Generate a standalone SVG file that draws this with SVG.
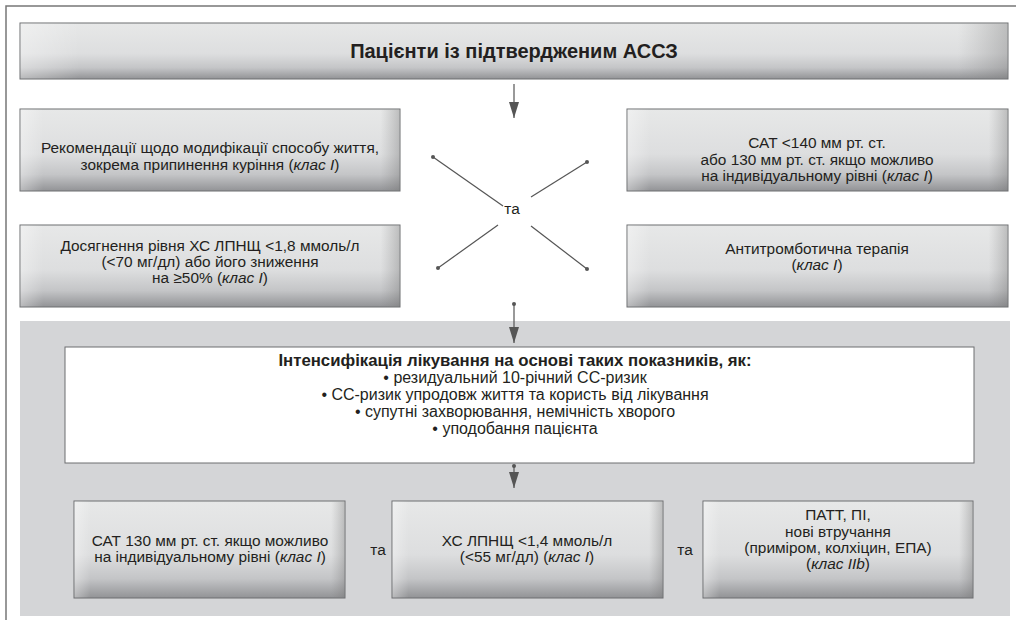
<svg xmlns="http://www.w3.org/2000/svg" width="1016" height="620" viewBox="0 0 1016 620">
<defs>
<linearGradient id="gv" x1="0" y1="0" x2="0" y2="1">
<stop offset="0" stop-color="#e7e8e8"/>
<stop offset="0.55" stop-color="#dddedf"/>
<stop offset="0.8" stop-color="#c4c5c7"/>
<stop offset="1" stop-color="#929396"/>
</linearGradient>
<linearGradient id="gh" x1="0" y1="0" x2="1" y2="0">
<stop offset="0" stop-color="#ffffff" stop-opacity="0.35"/>
<stop offset="0.06" stop-color="#ffffff" stop-opacity="0"/>
<stop offset="0.95" stop-color="#808080" stop-opacity="0"/>
<stop offset="1" stop-color="#707070" stop-opacity="0.35"/>
</linearGradient>
<marker id="ah" viewBox="0 0 16 10" refX="16" refY="5" markerWidth="16" markerHeight="10" markerUnits="userSpaceOnUse" orient="auto">
<path d="M0,0 L16,5 L0,10 Z" fill="#555"/>
</marker>
</defs>
<style>
.box{stroke:#6d6e70;stroke-width:1}
.t{font-family:"Liberation Sans",Arial,sans-serif;font-size:15.4px;fill:#231f20;text-anchor:middle}
.w{font-size:16px}
.b{font-weight:bold}
.i{font-style:italic}
.ln{stroke:#555;stroke-width:1.2;fill:none}
.dot{fill:#555}
</style>
<rect x="0" y="0" width="1016" height="620" fill="#fff"/>
<path d="M6,620 V6 H1016" fill="none" stroke="#777" stroke-width="1.5"/>
<rect x="20" y="321" width="990" height="295" fill="#d4d5d7"/>

<g id="title">
<rect class="box" x="20" y="23" width="988" height="56" fill="url(#gv)"/>
<rect x="20.5" y="23.5" width="987" height="55" fill="url(#gh)"/>
<text class="t b" x="514" y="58" style="font-size:20px">Пацієнти із підтвердженим АССЗ</text>
</g>

<g id="lifestyle">
<rect class="box" x="20" y="109" width="380" height="82" fill="url(#gv)"/>
<rect x="20.5" y="109.5" width="379" height="81" fill="url(#gh)"/>
<text class="t" x="210" y="153">Рекомендації щодо модифікації способу життя,</text>
<text class="t" x="210" y="170">зокрема припинення куріння (<tspan class="i">клас I</tspan>)</text>
</g>

<g id="ldl">
<rect class="box" x="20" y="225" width="380" height="82" fill="url(#gv)"/>
<rect x="20.5" y="225.5" width="379" height="81" fill="url(#gh)"/>
<text class="t" x="210" y="251">Досягнення рівня ХС ЛПНЩ &lt;1,8 ммоль/л</text>
<text class="t" x="210" y="267">(&lt;70 мг/дл) або його зниження</text>
<text class="t" x="210" y="283">на ≥50% (<tspan class="i">клас I</tspan>)</text>
</g>

<g id="sbp">
<rect class="box" x="627" y="109" width="381" height="82" fill="url(#gv)"/>
<rect x="627.5" y="109.5" width="380" height="81" fill="url(#gh)"/>
<text class="t" x="817" y="148">САТ &lt;140 мм рт. ст.</text>
<text class="t" x="817" y="165">або 130 мм рт. ст. якщо можливо</text>
<text class="t" x="817" y="181">на індивідуальному рівні (<tspan class="i">клас I</tspan>)</text>
</g>

<g id="antithrombotic">
<rect class="box" x="627" y="225" width="381" height="82" fill="url(#gv)"/>
<rect x="627.5" y="225.5" width="380" height="81" fill="url(#gh)"/>
<text class="t" x="817" y="254">Антитромботична терапія</text>
<text class="t" x="817" y="270">(<tspan class="i">клас I</tspan>)</text>
</g>

<g id="and-center">
<text class="t" x="512" y="214">та</text>
</g>

<g id="intensify">
<rect x="65" y="347" width="909" height="116" fill="#fff" stroke="#6d6e70" stroke-width="1"/>
<text class="t b" x="515" y="366" style="font-size:16.8px">Інтенсифікація лікування на основі таких показників, як:</text>
<text class="t w" x="515" y="383">• резидуальний 10-річний СС-ризик</text>
<text class="t w" x="515" y="400">• СС-ризик упродовж життя та користь від лікування</text>
<text class="t w" x="515" y="417">• супутні захворювання, немічність хворого</text>
<text class="t w" x="515" y="434">• уподобання пацієнта</text>
</g>

<g id="sbp130">
<rect class="box" x="74" y="501" width="271" height="97" fill="url(#gv)"/>
<rect x="74.5" y="501.5" width="270" height="96" fill="url(#gh)"/>
<text class="t" x="210" y="546">САТ 130 мм рт. ст. якщо можливо</text>
<text class="t" x="210" y="562">на індивідуальному рівні (<tspan class="i">клас I</tspan>)</text>
</g>

<g id="ldl14">
<rect class="box" x="392" y="501" width="271" height="97" fill="url(#gv)"/>
<rect x="392.5" y="501.5" width="270" height="96" fill="url(#gh)"/>
<text class="t" x="527" y="546">ХС ЛПНЩ &lt;1,4 ммоль/л</text>
<text class="t" x="527" y="562">(&lt;55 мг/дл) (<tspan class="i">клас I</tspan>)</text>
</g>

<g id="patt">
<rect class="box" x="703" y="501" width="270" height="97" fill="url(#gv)"/>
<rect x="703.5" y="501.5" width="269" height="96" fill="url(#gh)"/>
<text class="t" x="838" y="520">ПАТТ, ПІ,</text>
<text class="t" x="838" y="537">нові втручання</text>
<text class="t" x="838" y="553">(приміром, колхіцин, ЕПА)</text>
<text class="t" x="838" y="569">(<tspan class="i">клас IIb</tspan>)</text>
</g>

<g id="and-bottom">
<text class="t" x="378" y="555">та</text>
<text class="t" x="685" y="555">та</text>
</g>

<g id="connectors">
<line class="ln" x1="514" y1="84" x2="514" y2="118" marker-end="url(#ah)"/>
<line class="ln" x1="433" y1="157" x2="503" y2="206"/>
<line class="ln" x1="438" y1="268" x2="498" y2="225"/>
<line class="ln" x1="587" y1="162" x2="531" y2="197"/>
<line class="ln" x1="587" y1="269" x2="531" y2="226"/>
<circle class="dot" cx="433" cy="157" r="2"/>
<circle class="dot" cx="438" cy="268" r="2"/>
<circle class="dot" cx="587" cy="162" r="2"/>
<circle class="dot" cx="587" cy="269" r="2"/>
<line class="ln" x1="514" y1="304" x2="514" y2="343" marker-end="url(#ah)"/>
<circle class="dot" cx="514" cy="304" r="2"/>
<line class="ln" x1="514" y1="466" x2="514" y2="488" marker-end="url(#ah)"/>
<circle class="dot" cx="514" cy="466" r="2"/>
</g>
</svg>
